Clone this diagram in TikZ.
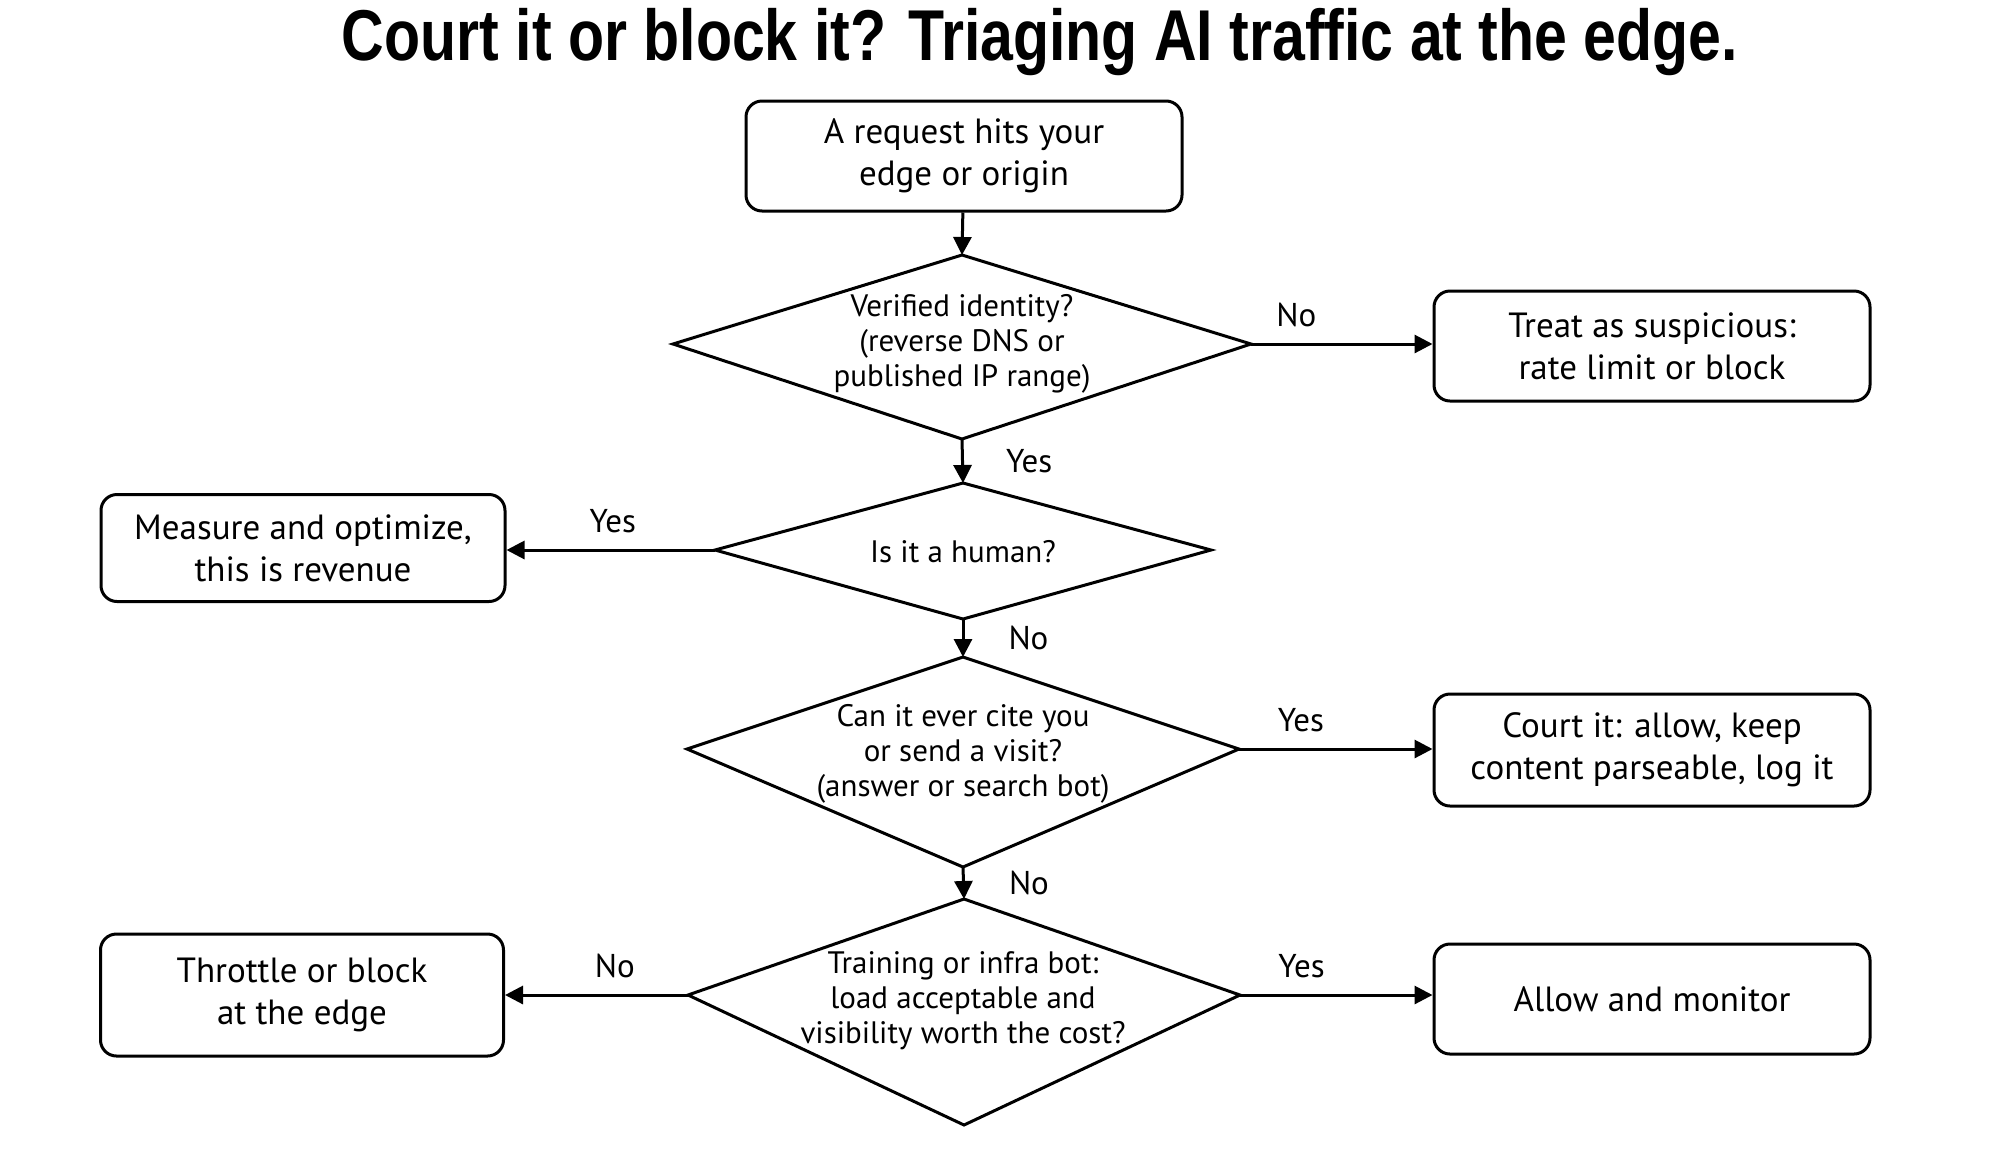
\documentclass[tikz,border=0pt]{standalone}
\usepackage{fontspec}
\setmainfont{PT Sans}
\newfontfamily\titlefont{Liberation Sans}[FakeStretch=0.82]
\usetikzlibrary{arrows.meta}

\tikzset{
  box/.style={draw, line width=1.5pt, rounded corners=8pt, align=center,
    minimum width=218pt, minimum height=55pt, inner sep=0pt,
    font=\fontsize{17.5}{21}\selectfont},
  qtext/.style={align=center, inner sep=0pt, font=\fontsize{15.5}{17.5}\selectfont},
  lbl/.style={inner sep=0pt, font=\fontsize{16.5}{18}\selectfont},
  arr/.style={line width=1.5pt, -{Triangle[length=9pt,width=9pt]}},
}

% decision diamond: name, x, y, half width, up, down
\newcommand{\decision}[6]{%
  \coordinate (#1n) at (#2,#3-#5);
  \coordinate (#1s) at (#2,#3+#6);
  \coordinate (#1w) at (#2-#4,#3);
  \coordinate (#1e) at (#2+#4,#3);
  \draw[line width=1.5pt, line join=miter] (#1n) -- (#1e) -- (#1s) -- (#1w) -- cycle;
}

\begin{document}
\begin{tikzpicture}[x=0.5pt,y=-0.5pt]
    \useasboundingbox (0,0) rectangle (2000,1152);
    \node (title) at (1040,42) {\titlefont\bfseries\fontsize{36}{40}\selectfont Court it or block it? Triaging AI traffic at the edge.};

    \node[box] (start) at (964,156) {A request hits your\\edge or origin};

    \decision{verify}{962}{344}{289}{89}{95}
    \node[qtext] (verifyt) at (962,344) {Verified identity?\\(reverse DNS or\\published IP range)};
    \node[box] (suspect) at (1652,346) {Treat as suspicious:\\rate limit or block};

    \decision{human}{963}{550}{248}{67}{69}
    \node[qtext] (humant) at (963,552) {Is it a human?};
    \node[box, minimum width=202pt, minimum height=53.5pt] (revenue) at (303,548) {Measure and optimize,\\this is revenue};

    \decision{cite}{963}{749}{276}{92}{118}
    \node[qtext] (citet) at (963,754) {Can it ever cite you\\or send a visit?\\(answer or search bot)};
    \node[box, minimum height=56pt] (court) at (1652,750) {Court it: allow, keep\\content parseable, log it};

    \decision{train}{964}{995}{276}{96}{130}
    \node[qtext] (traint) at (963,1001) {Training or infra bot:\\load acceptable and\\visibility worth the cost?};
    \node[box, minimum width=201.5pt, minimum height=61pt] (throttle) at (302,995) {Throttle or block\\at the edge};
    \node[box] (allow) at (1652,999) {Allow and monitor};

    \draw[arr] (start) -- (verifyn);
    \draw[arr] (verifye) -- node[lbl, pos=0.25, above=8pt] {No} (verifye -| suspect.west);
    \draw[arr] (verifys) -- node[lbl, right=21pt] {Yes} (humann);
    \draw[arr] (humanw) -- node[lbl, pos=0.49, above=8pt] {Yes} (humanw -| revenue.east);
    \draw[arr] (humans) -- node[lbl, right=22pt] {No} (citen);
    \draw[arr] (citee) -- node[lbl, pos=0.32, above=8pt] {Yes} (citee -| court.west);
    \draw[arr] (cites) -- node[lbl, right=22pt] {No} (trainn);
    \draw[arr] (trainw) -- node[lbl, pos=0.4, above=8pt] {No} (trainw -| throttle.east);
    \draw[arr] (traine) -- node[lbl, pos=0.32, above=8pt] {Yes} (traine -| allow.west);
\end{tikzpicture}
\end{document}
